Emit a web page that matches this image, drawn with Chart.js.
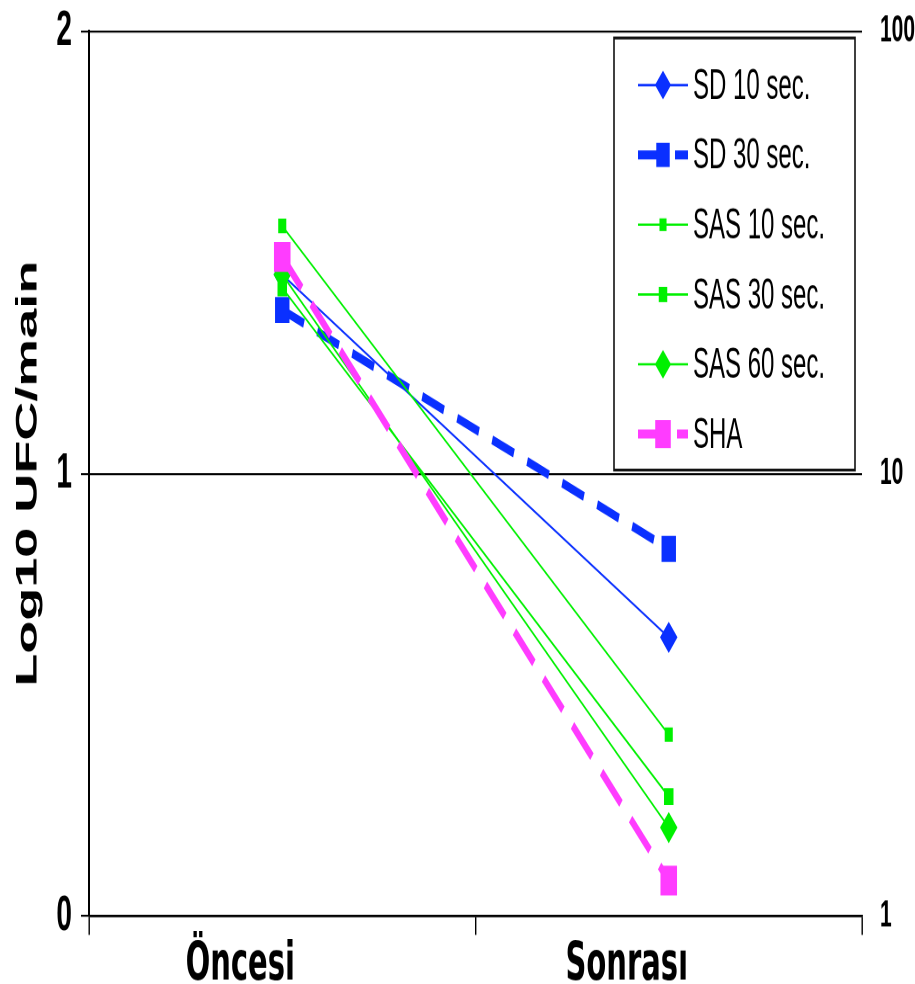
<!DOCTYPE html>
<html>
<head>
<meta charset="utf-8">
<script src="https://cdn.jsdelivr.net/npm/chart.js@4.4.1/dist/chart.umd.min.js"></script>
<style>
  html { overflow: hidden; }
  html, body { margin: 0; padding: 0; background: #fff; height: 984px; }
  /* the original picture is stretched vertically, so draw flat and stretch the whole thing */
  #wrap { width: 915px; height: 547px; transform: scale(1, 1.7989); transform-origin: 0 0; }
</style>
</head>
<body>
<div id="wrap"><canvas id="chart" width="915" height="547"></canvas></div>
<script>
// data (log10 values, left axis)
const categories = ['Öncesi', 'Sonrası'];
const sd10 = [1.45, 0.63];
const sd30 = [1.37, 0.83];
const sas10 = [1.56, 0.41];
const sas30 = [1.42, 0.27];
const sas60 = [1.45, 0.20];
const sha = [1.49, 0.08];
const seriesNames = ['SD 10 sec.', 'SD 30 sec.', 'SAS 10 sec.', 'SAS 30 sec.', 'SAS 60 sec.', 'SHA'];
const leftTicks = [0, 1, 2];
const rightTicks = [1, 10, 100];

const BLUE = '#0a30ff';
const GREEN = '#00f000';
const PINK = '#ff3cff';

Chart.defaults.font.family = "'Liberation Sans', Arial, sans-serif";
Chart.defaults.color = '#000';

const makeSet = (label, data, color, width, dash, style, radius, order) => ({
    label: label,
    data: data,
    borderColor: color,
    backgroundColor: color,
    borderWidth: width,
    borderDash: dash,
    pointStyle: style,
    pointRadius: radius,
    pointBackgroundColor: color,
    pointBorderColor: color,
    pointBorderWidth: 1,
    fill: false,
    tension: 0,
    order: order,
    yAxisID: 'y'
});

// box with line samples, drawn over the plot like the Excel legend
const boxLegend = {
    id: 'boxLegend',
    afterDraw(chart) {
        const ctx = chart.ctx;
        const left = 614, right = 855, top = 21.1, bottom = 261.3;
        ctx.save();
        ctx.fillStyle = '#fff';
        ctx.fillRect(left, top, right - left, bottom - top);
        ctx.strokeStyle = '#111';
        ctx.lineWidth = 1.6;
        ctx.strokeRect(left, top, right - left, bottom - top);

        chart.data.datasets.forEach((ds, i) => {
            const y = 47.3 + i * 38.8;
            ctx.strokeStyle = ds.borderColor;
            ctx.lineWidth = ds.borderWidth;
            ctx.setLineDash(ds.borderDash || []);
            ctx.beginPath();
            ctx.moveTo(638, y);
            ctx.lineTo(688, y);
            ctx.stroke();
            ctx.setLineDash([]);
            ctx.fillStyle = ds.pointBackgroundColor;
            Chart.helpers.drawPoint(ctx, {
                pointStyle: ds.pointStyle,
                radius: ds.pointRadius,
                rotation: 0,
                borderWidth: 0
            }, 663, y);

            ctx.fillStyle = '#000';
            ctx.font = "24px 'Liberation Sans', Arial, sans-serif";
            ctx.textBaseline = 'middle';
            ctx.textAlign = 'left';
            ctx.fillText(ds.label, 693, y + 1);
        });
        ctx.restore();
    }
};

new Chart(document.getElementById('chart'), {
    type: 'line',
    data: {
        labels: categories,
        datasets: [
            makeSet(seriesNames[0], sd10, BLUE, 1.3, [], 'rectRot', 8, 6),
            makeSet(seriesNames[1], sd30, BLUE, 5, [23, 14], 'rect', 9.5, 5),
            makeSet(seriesNames[2], sas10, GREEN, 1.3, [], 'rect', 5, 4),
            makeSet(seriesNames[3], sas30, GREEN, 1.3, [], 'rect', 6, 3),
            makeSet(seriesNames[4], sas60, GREEN, 1.3, [], 'rectRot', 8, 2),
            makeSet(seriesNames[5], sha, PINK, 5, [26, 13], 'rect', 11, 1)
        ]
    },
    options: {
        responsive: false,
        animation: false,
        devicePixelRatio: 2,
        layout: { padding: { top: 16.7, left: 0, right: 0, bottom: 0 } },
        plugins: {
            legend: { display: false },
            tooltip: { enabled: false }
        },
        scales: {
            x: {
                type: 'category',
                offset: true,
                grid: {
                    offset: true,
                    drawOnChartArea: false,
                    color: '#000',
                    lineWidth: 1.4,
                    tickLength: 10.5
                },
                border: { display: true, color: '#000', width: 1.4 },
                ticks: {
                    font: { family: "'DejaVu Sans', sans-serif", size: 29, weight: 'bold' },
                    padding: 0,
                    labelOffset: -42,
                    maxRotation: 0
                },
                afterFit: (s) => { s.height = 37.8; }
            },
            y: {
                type: 'linear',
                position: 'left',
                min: 0,
                max: 2,
                afterBuildTicks: (s) => { s.ticks = leftTicks.map(v => ({ value: v })); },
                grid: { color: '#000', lineWidth: 1.1, tickLength: 8 },
                border: { display: true, color: '#000', width: 2 },
                ticks: {
                    font: { size: 28, weight: 'bold', lineHeight: 0.6 },
                    padding: 9
                },
                title: {
                    display: true,
                    text: 'Log10 UFC/main',
                    font: { size: 30, weight: 'bold' },
                    padding: { top: 10, bottom: 0 }
                },
                afterFit: (s) => { s.width = 89; }
            },
            y2: {
                type: 'logarithmic',
                position: 'right',
                min: 1,
                max: 100,
                afterBuildTicks: (s) => { s.ticks = rightTicks.map(v => ({ value: v })); },
                grid: { display: false },
                border: { display: false },
                ticks: {
                    font: { size: 21, weight: 'bold', lineHeight: 0.5 },
                    padding: 10,
                    callback: (v) => String(v)
                },
                afterFit: (s) => { s.width = 53; }
            }
        }
    },
    plugins: [boxLegend]
});
</script>
</body>
</html>
